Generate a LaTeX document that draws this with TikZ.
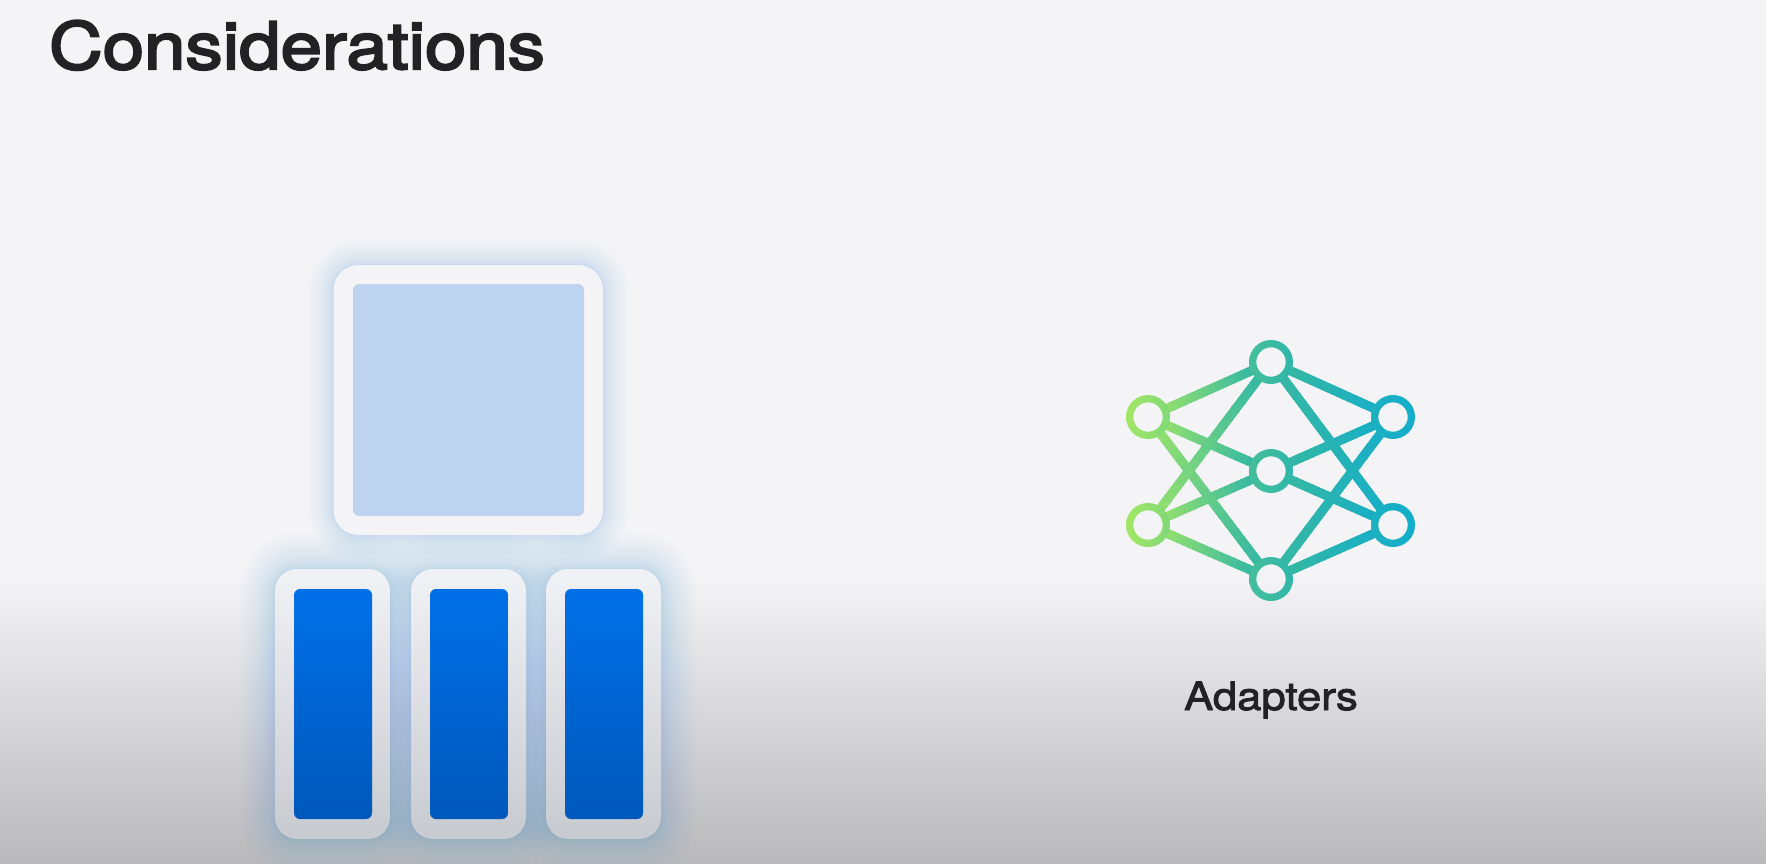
\documentclass[tikz,border=0pt]{standalone}
\usepackage{fontspec}
\usetikzlibrary{calc}
\newfontfamily\titlefont[FakeStretch=1.145,FakeBold=3.4]{TeX Gyre Heros}
\newfontfamily\labelfont[FakeStretch=1.12,FakeBold=2.2]{TeX Gyre Heros}
\definecolor{bgtop}{HTML}{F4F4F6}
\definecolor{bgbot}{HTML}{B9B9BB}
\definecolor{ink}{HTML}{222224}
\definecolor{lightblue}{HTML}{BED3F0}
\definecolor{bluetop}{HTML}{0070E8}
\definecolor{bluebot}{HTML}{0058BB}
\definecolor{ringtop}{HTML}{F1F2F6}
\definecolor{ringbot}{HTML}{C7CACF}
\definecolor{glowtop}{HTML}{9DC2F0}
\definecolor{glowbar}{HTML}{2F88E4}
\definecolor{netA}{HTML}{A2E765}
\definecolor{netB}{HTML}{35B8A4}
\definecolor{netC}{HTML}{12ADCC}
\newcommand{\netcolor}[2]{% name, x
  \pgfmathsetmacro{\netf}{max(0,min(1,((#2)-1126)/289))}%
  \pgfmathsetmacro{\netp}{\netf<0.5 ? 100-200*\netf : 200-200*\netf}%
  \pgfmathparse{\netf<0.5 ? 1 : 0}%
  \ifnum\pgfmathresult=1 \colorlet{#1}{netA!\netp!netB}\else \colorlet{#1}{netB!\netp!netC}\fi}
\newcommand{\glowbox}[7]{% x1,y1,x2,y2,radius,style,step
  \foreach \g in {1,...,14}{
    \pgfmathsetmacro{\gg}{#7*\g*\g}
    \fill[#6,rounded corners=#5+\gg] (#1-\gg,#2-\gg) rectangle (#3+\gg,#4+\gg);
  }}
\newcommand{\barbox}[2]{% outer left, inner left
  \shade[top color=ringtop,bottom color=ringbot,rounded corners=22] (#1,569) rectangle (#1+115,839);
  \shade[top color=bluetop,bottom color=bluebot,rounded corners=6] (#2,589) rectangle (#2+78,819);}
\newcommand{\netnode}[3]{%
  \node[netdot] (#1) at (#2,#3) {};
  \expandafter\xdef\csname nx@#1\endcsname{#2}}
\newcommand{\netring}[1]{%
  \pgfmathsetmacro{\nx}{\csname nx@#1\endcsname}%
  \netcolor{ringl}{\nx-22}\netcolor{ringr}{\nx+22}%
  \shade[even odd rule,left color=ringl,right color=ringr] (#1.center) circle (22) (#1.center) circle (14.7);}
\newcommand{\netedge}[2]{%
  \pgfmathsetmacro{\xa}{\csname nx@#1\endcsname}%
  \pgfmathsetmacro{\xb}{\csname nx@#2\endcsname}%
  \netcolor{segc}{(\xa+\xb)/2}%
  \draw[netline,segc] (#1) -- (#2);
  \foreach \i in {0,...,15}{
    \pgfmathsetmacro{\ta}{\i/16}
    \pgfmathsetmacro{\tb}{min(1,(\i+1.3)/16)}
    \netcolor{segc}{\xa+(\ta+0.03)*(\xb-\xa)}
    \path (#1) -- (#2) coordinate[pos=\ta] (sa) coordinate[pos=\tb] (sb);
    \draw[netline,segc] (sa) -- (sb);
  }}
\tikzset{
  netdot/.style={circle,minimum size=40pt,inner sep=0pt,outer sep=0pt},
  netline/.style={line width=9pt},
  topglow/.style={glowtop,opacity=0.04},
  barglow/.style={glowbar,opacity=0.021},
}
\begin{document}
\begin{tikzpicture}[x=1pt,y=-1pt]
\useasboundingbox (0,0) rectangle (1766,864);
\fill[bgtop] (0,0) rectangle (1766,576);
\shade[top color=bgtop,bottom color=bgbot] (0,575) rectangle (1766,864);
% glows
\glowbox{333.5}{265}{603}{535}{25}{topglow}{0.13}
\begin{scope}
\clip (0,0) rectangle (1766,864);
\glowbox{275}{569}{390}{839}{22}{barglow}{0.18}
\glowbox{411}{569}{526}{839}{22}{barglow}{0.18}
\glowbox{546}{569}{661}{839}{22}{barglow}{0.18}
\end{scope}
% top box
\fill[bgtop,rounded corners=25] (333.5,265) rectangle (603,535);
\fill[lightblue,rounded corners=6] (353,284) rectangle (584,516);
% bars
\barbox{275}{294}
\barbox{411}{430}
\barbox{546}{565}
% network
\netnode{lt}{1148}{417}
\netnode{lb}{1148}{525}
\netnode{tm}{1271}{362}
\netnode{mm}{1271}{471}
\netnode{bm}{1271}{579}
\netnode{rt}{1393}{417}
\netnode{rb}{1393}{525}
\netedge{lt}{tm}\netedge{lt}{mm}\netedge{lt}{bm}
\netedge{lb}{tm}\netedge{lb}{mm}\netedge{lb}{bm}
\netedge{tm}{rt}\netedge{tm}{rb}
\netedge{mm}{rt}\netedge{mm}{rb}
\netedge{bm}{rt}\netedge{bm}{rb}
\netring{lt}\netring{lb}\netring{tm}\netring{mm}\netring{bm}\netring{rt}\netring{rb}
% text
\node[anchor=base,inner sep=0pt,text=ink,font=\titlefont\fontsize{65}{65}\selectfont] (title) at (297,69) {Considerations};
\node[anchor=base,inner sep=0pt,text=ink,font=\labelfont\fontsize{39}{39}\selectfont] (adapters) at (1271,710) {Adapters};
\end{tikzpicture}
\end{document}
